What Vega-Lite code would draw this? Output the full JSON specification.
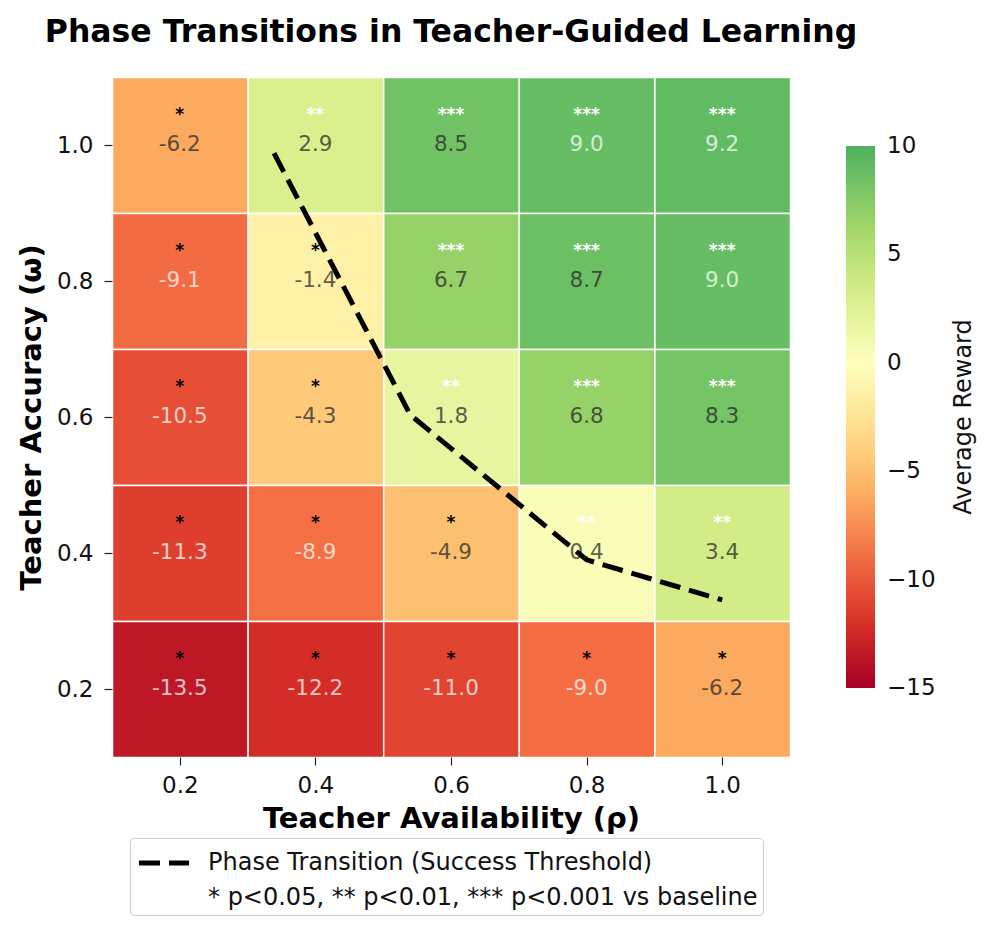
{
  "$schema": "https://vega.github.io/schema/vega-lite/v6.json",
  "autosize": {"type": "none"},
  "padding": {"left": 112, "top": 77, "right": 207, "bottom": 177},
  "width": 678,
  "height": 680,
  "background": "white",
  "config": {
    "font": "DejaVu Sans",
    "locale": {"number": {"decimal": ".", "thousands": ",", "grouping": [3], "currency": ["$", ""], "minus": "-"}},
    "view": {"stroke": null},
    "axis": {"domain": false, "grid": false, "tickColor": "#222", "tickWidth": 1.2, "tickSize": 8, "labelFontSize": 23, "labelColor": "#111", "titleFontSize": 29, "titleFontWeight": "bold", "titleColor": "black"}
  },
  "title": {"text": "Phase Transitions in Teacher-Guided Learning", "fontSize": 31.5, "fontWeight": "bold", "anchor": "middle", "offset": 28, "color": "black"},
  "datasets": {
    "cells": [
      {"rho": 0.2, "omega": 1.0, "reward": -6.2, "stars": "*"},
      {"rho": 0.4, "omega": 1.0, "reward": 2.9, "stars": "**"},
      {"rho": 0.6, "omega": 1.0, "reward": 8.5, "stars": "***"},
      {"rho": 0.8, "omega": 1.0, "reward": 9.0, "stars": "***"},
      {"rho": 1.0, "omega": 1.0, "reward": 9.2, "stars": "***"},
      {"rho": 0.2, "omega": 0.8, "reward": -9.1, "stars": "*"},
      {"rho": 0.4, "omega": 0.8, "reward": -1.4, "stars": "*"},
      {"rho": 0.6, "omega": 0.8, "reward": 6.7, "stars": "***"},
      {"rho": 0.8, "omega": 0.8, "reward": 8.7, "stars": "***"},
      {"rho": 1.0, "omega": 0.8, "reward": 9.0, "stars": "***"},
      {"rho": 0.2, "omega": 0.6, "reward": -10.5, "stars": "*"},
      {"rho": 0.4, "omega": 0.6, "reward": -4.3, "stars": "*"},
      {"rho": 0.6, "omega": 0.6, "reward": 1.8, "stars": "**"},
      {"rho": 0.8, "omega": 0.6, "reward": 6.8, "stars": "***"},
      {"rho": 1.0, "omega": 0.6, "reward": 8.3, "stars": "***"},
      {"rho": 0.2, "omega": 0.4, "reward": -11.3, "stars": "*"},
      {"rho": 0.4, "omega": 0.4, "reward": -8.9, "stars": "*"},
      {"rho": 0.6, "omega": 0.4, "reward": -4.9, "stars": "*"},
      {"rho": 0.8, "omega": 0.4, "reward": 0.4, "stars": "**"},
      {"rho": 1.0, "omega": 0.4, "reward": 3.4, "stars": "**"},
      {"rho": 0.2, "omega": 0.2, "reward": -13.5, "stars": "*"},
      {"rho": 0.4, "omega": 0.2, "reward": -12.2, "stars": "*"},
      {"rho": 0.6, "omega": 0.2, "reward": -11.0, "stars": "*"},
      {"rho": 0.8, "omega": 0.2, "reward": -9.0, "stars": "*"},
      {"rho": 1.0, "omega": 0.2, "reward": -6.2, "stars": "*"}
    ],
    "boundary": [
      {"rho": 0.339, "omega": 0.988, "series": "Phase Transition (Success Threshold)"},
      {"rho": 0.54, "omega": 0.603, "series": "Phase Transition (Success Threshold)"},
      {"rho": 0.80, "omega": 0.39, "series": "Phase Transition (Success Threshold)"},
      {"rho": 1.0, "omega": 0.331, "series": "Phase Transition (Success Threshold)"}
    ]
  },
  "layer": [
    {
      "data": {"name": "cells"},
      "mark": {"type": "rect", "stroke": "white", "strokeWidth": 1.5},
      "encoding": {
        "x": {"field": "rho", "type": "quantitative", "bin": {"step": 0.2, "extent": [0.1, 1.1], "nice": false, "anchor": 0.1}, "scale": {"domain": [0.1, 1.1], "nice": false, "zero": false},
              "axis": {"values": [0.2, 0.4, 0.6, 0.8, 1.0], "format": ".1f", "title": "Teacher Availability (\u03c1)", "labelPadding": 9, "titlePadding": 7}},
        "y": {"field": "omega", "type": "quantitative", "bin": {"step": 0.2, "extent": [0.1, 1.1], "nice": false, "anchor": 0.1}, "scale": {"domain": [0.1, 1.1], "nice": false, "zero": false},
              "axis": {"values": [0.2, 0.4, 0.6, 0.8, 1.0], "format": ".1f", "title": "Teacher Accuracy (\u03c9)", "labelPadding": 11, "titlePadding": 10}},
        "fill": {
          "field": "reward", "type": "quantitative",
          "scale": {"domain": [-15, -12, -9, -6, -3, 0, 3, 6, 9, 10], "range": ["#a50026", "#d73027", "#f46d43", "#fdae61", "#fee08b", "#ffffbf", "#d9ef8b", "#a6d96a", "#66bd63", "#4db15d"], "interpolate": "rgb", "nice": false, "zero": false},
          "legend": {
            "type": "gradient", "direction": "vertical", "orient": "none", "legendX": 734, "legendY": 69,
            "gradientLength": 542, "gradientThickness": 29, "gradientStrokeWidth": 0,
            "values": [-15, -10, -5, 0, 5, 10], "labelOverlap": false, "labelBaseline": "middle",
            "labelExpr": "replace(datum.label, '-', '\u2212')",
            "labelFontSize": 23, "labelColor": "#111", "labelOffset": 12,
            "title": "Average Reward", "titleOrient": "right", "titleFontSize": 24, "titleFontWeight": "normal", "titleColor": "#111", "titlePadding": 40, "titleLimit": 600,
            "encode": {"title": {"update": {"angle": {"value": -90}}}, "labels": {"update": {"baseline": {"value": "middle"}}}}
          }
        }
      }
    },
    {
      "data": {"name": "cells"},
      "mark": {"type": "text", "dy": -30, "fontSize": 17, "fontWeight": "bold", "baseline": "middle"},
      "encoding": {
        "x": {"field": "rho", "type": "quantitative"},
        "y": {"field": "omega", "type": "quantitative"},
        "text": {"field": "stars", "type": "nominal"},
        "color": {"condition": {"test": "datum.stars == '*'", "value": "black"}, "value": "white"}
      }
    },
    {
      "data": {"name": "cells"},
      "mark": {"type": "text", "fontSize": 21.5, "baseline": "middle", "opacity": 0.72},
      "encoding": {
        "x": {"field": "rho", "type": "quantitative"},
        "y": {"field": "omega", "type": "quantitative"},
        "text": {"field": "reward", "type": "quantitative", "format": ".1f"},
        "color": {"condition": {"test": "datum.reward < -8 || datum.reward > 8.8", "value": "white"}, "value": "#262626"}
      }
    },
    {
      "data": {"name": "boundary"},
      "mark": {"type": "line", "strokeWidth": 5, "strokeDash": [21, 9]},
      "encoding": {
        "x": {"field": "rho", "type": "quantitative"},
        "y": {"field": "omega", "type": "quantitative"},
        "stroke": {
          "field": "series", "type": "nominal",
          "scale": {"domain": ["Phase Transition (Success Threshold)", "* p<0.05, ** p<0.01, *** p<0.001 vs baseline"], "range": ["black", "transparent"]},
          "legend": {
            "title": null, "orient": "none", "legendX": 18, "legendY": 761,
            "symbolType": "M-1.43,0H1.43", "symbolSize": 1225, "symbolStrokeWidth": 5, "symbolDash": [21, 9], "symbolOffset": 9,
            "labelFontSize": 24, "labelColor": "#111", "labelLimit": 800, "labelOffset": 24,
            "fillColor": "white", "strokeColor": "#cccccc", "cornerRadius": 4, "padding": 5, "rowPadding": 3
          }
        }
      }
    }
  ]
}
